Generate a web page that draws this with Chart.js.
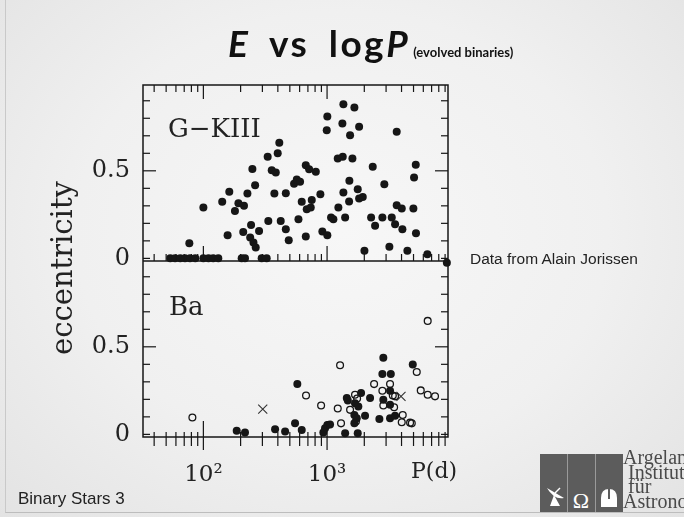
<!DOCTYPE html>
<html>
<head>
<meta charset="utf-8">
<script src="https://cdn.jsdelivr.net/npm/chart.js@4.4.1/dist/chart.umd.min.js"></script>
<style>
  html, body { margin: 0; padding: 0; }
  body {
    width: 684px; height: 517px; overflow: hidden; position: relative;
    background: radial-gradient(ellipse at 50% 45%, #f7f7f7 0%, #f0f0f0 55%, #e3e3e3 100%);
    font-family: "Liberation Sans", Arial, sans-serif;
  }
  #chart { position: absolute; left: 0; top: 0; }
  .frame { position: absolute; left: 5px; top: -2px; width: 700px; height: 514px;
    border-left: 1px solid #c9c9c9; border-bottom: 1px solid #bdbdbd; }
  .title { position: absolute; left: 228px; top: 24px; line-height: 1;
    font-family: Lato, "Open Sans", sans-serif; font-weight: 700; font-size: 37px; color: #111;
    white-space: nowrap; letter-spacing: 2.5px; word-spacing: 8px; }
  .title i { font-style: italic; }
  .title small { font-size: 13px; letter-spacing: 0; word-spacing: 0; margin-left: 3px; }
  .note { position: absolute; left: 470px; top: 250px; font-size: 15.5px; color: #222; }
  .footer { position: absolute; left: 18px; top: 489px; font-size: 17px; color: #222; }
  .logo { position: absolute; left: 540px; top: 454px; width: 83px; height: 58px; background: #5c5c5c; }
  .logo .sep { position: absolute; top: 0; width: 1px; height: 58px; background: #9a9a9a; }
  .logo svg { position: absolute; left: 0; top: 0; }
  .logotext { position: absolute; left: 623px; top: 450px; font-family: "Liberation Serif", serif;
    font-size: 20px; line-height: 14.5px; color: #4a4a4a; white-space: nowrap; }
</style>
</head>
<body>
<div class="frame"></div>
<canvas id="chart" width="684" height="517"></canvas>
<div class="title"><i>E</i> vs log<i>P</i><small>(evolved binaries)</small></div>
<div class="note">Data from Alain Jorissen</div>
<div class="footer">Binary Stars 3</div>
<div class="logo">
  <div class="sep" style="left:27px"></div>
  <div class="sep" style="left:55px"></div>
  <svg width="83" height="58">
    <path d="M7 34 Q14 46 24 44 Z" fill="#fff"/>
    <path d="M14 41 L10 52 L20 52 Z" fill="#fff"/>
    <line x1="15" y1="39" x2="20" y2="34" stroke="#fff" stroke-width="1.5"/>
    <text x="41" y="54" text-anchor="middle" font-family="Liberation Serif" font-size="22" fill="#fff">Ω</text>
    <path d="M61 53 L61 44 Q61 35 69 35 Q77 35 77 44 L77 53 Z" fill="#fff"/>
    <rect x="68" y="35" width="2" height="10" fill="#5c5c5c"/>
  </svg>
</div>
<div class="logotext">Argelander<br>&nbsp;Institut<br>&nbsp;für<br>Astronomie</div>
<script>
// orbital period P (days) and eccentricity
const gkPeriod = [54, 59, 65, 71, 78, 86, 100, 110, 120, 132, 204, 217, 296, 325,
  77, 100, 142, 162, 192, 180, 213, 157, 227, 249, 262, 210, 243, 239, 254, 265, 282,
  331, 411, 399, 357, 385, 375, 335, 422, 464, 490, 464, 541, 569, 605, 587,
  673, 716, 811, 624, 752, 685, 738, 883, 673, 916, 1005, 1005, 994,
  1355, 1663, 1330, 1816, 1535, 1220, 1339, 1603, 1515, 1355, 1770, 1507, 1816, 1944,
  1234, 1077, 1125, 1400, 2340, 2904, 3656, 2270, 2445, 2800, 3334, 3548, 3656,
  4016, 4064, 4988, 5213, 5050, 5234, 2005, 3190, 4460, 6470, 9300];
const gkEcc = [0, 0, 0, 0, 0, 0, 0, 0, 0, 0, 0, 0, 0, 0,
  0.086, 0.29, 0.323, 0.38, 0.315, 0.27, 0.30, 0.132, 0.37, 0.51, 0.418, 0.151, 0.19, 0.119, 0.09, 0.062, 0.157,
  0.58, 0.66, 0.60, 0.503, 0.49, 0.37, 0.214, 0.214, 0.166, 0.103, 0.372, 0.426, 0.45, 0.437, 0.223,
  0.532, 0.509, 0.494, 0.323, 0.334, 0.281, 0.29, 0.366, 0.125, 0.153, 0.132, 0.81, 0.732,
  0.88, 0.862, 0.77, 0.751, 0.703, 0.57, 0.58, 0.57, 0.443, 0.376, 0.395, 0.325, 0.342, 0.351,
  0.29, 0.233, 0.223, 0.233, 0.523, 0.423, 0.723, 0.233, 0.186, 0.233, 0.233, 0.195, 0.303,
  0.285, 0.166, 0.285, 0.534, 0.462, 0.143, 0.043, 0.066, 0.043, 0.023, -0.025];

const baFilledPeriod = [186, 217, 380, 458, 551, 575, 624, 933, 963, 1005, 1057, 1400, 1444, 1472,
  1683, 1790, 1884, 1663, 1738, 1663, 1770, 2028, 2227, 2850, 2800, 3276, 3230, 2850, 3230,
  2648, 3230, 3548, 4930];
const baFilledEcc = [0.02, 0.011, 0.029, 0.016, 0.063, 0.287, 0.025, 0.011, 0.035, 0.054, 0.057, 0.006, 0.207, 0.194,
  0.178, 0.159, 0.236, 0.111, 0.092, 0.063, 0.006, 0.107, 0.207, 0.437, 0.345, 0.345, 0.249, 0.198, 0.169,
  0.088, 0.092, 0.107, 0.399];

const baOpenPeriod = [81.5, 676, 895, 1274, 1220, 1297, 1535, 1683, 1749, 1711, 2400, 3230, 2800, 3400,
  3548, 2850, 3484, 4090, 4016, 4690, 4840, 5310, 5720, 6510, 7460, 6510];
const baOpenEcc = [0.096, 0.222, 0.165, 0.395, 0.148, 0.063, 0.14, 0.226, 0.205, 0.073, 0.287, 0.287, 0.249, 0.222,
  0.217, 0.165, 0.155, 0.111, 0.069, 0.067, 0.063, 0.356, 0.251, 0.226, 0.217, 0.648];

const baCrossPeriod = [302, 3960];
const baCrossEcc = [0.144, 0.217];

const xTickValues = [100, 1000];
const xTickLabels = ['10²', '10³'];
const yTickValues = [0, 0.5];
const yTickLabels = ['0', '0.5'];

const ink = '#161616';
const serif = '"DejaVu Serif", "Liberation Serif", serif';

function points(px, py) {
  return px.map((p, i) => ({ x: p, y: py[i] }));
}

function line(ctx, x1, y1, x2, y2) {
  ctx.beginPath();
  ctx.moveTo(x1, y1);
  ctx.lineTo(x2, y2);
  ctx.stroke();
}

// box, inward ticks and panel texts of the scanned figure
const framePlugin = {
  id: 'framePlugin',
  afterDatasetsDraw(chart) {
    const ctx = chart.ctx;
    const x = chart.scales.x, yt = chart.scales.yTop, yb = chart.scales.yBot;
    const L = x.left, R = x.right, T = yt.top, M = yt.bottom, B = yb.bottom;
    ctx.save();
    ctx.strokeStyle = ink;
    ctx.lineWidth = 1.5;
    ctx.strokeRect(L, T, R - L, B - T);
    line(ctx, L, M, R, M);

    ctx.lineWidth = 1.2;
    for (const ys of [yt, yb]) {
      for (let i = 0; i <= 9; i++) {
        const py = ys.getPixelForValue(i / 10);
        const len = i === 5 ? 13 : 7;
        line(ctx, L, py, L + len, py);
        line(ctx, R - len, py, R, py);
      }
    }
    for (let n = 1; n <= 3; n++) {
      for (let k = 1; k <= 9; k++) {
        const v = k * Math.pow(10, n);
        if (v < x.min || v > x.max) continue;
        const px = x.getPixelForValue(v);
        const major = k === 1;
        line(ctx, px, T, px, T + (major ? 14 : 7));
        line(ctx, px, M, px, M - (major ? 15 : 7));
        line(ctx, px, B - (major ? 16 : 5), px, B + (major ? 13 : 9));
      }
    }

    ctx.fillStyle = '#222';
    ctx.textBaseline = 'alphabetic';
    ctx.textAlign = 'left';
    ctx.font = '26px ' + serif;
    ctx.fillText('G\u2212KIII', L + 25, T + 52);
    ctx.fillText('Ba', L + 26, M + 54);
    ctx.font = '22px ' + serif;
    ctx.fillText('P(d)', 411, B + 41);

    ctx.translate(64, 268);
    ctx.rotate(-Math.PI / 2);
    ctx.textAlign = 'center';
    ctx.textBaseline = 'middle';
    ctx.font = '29px ' + serif;
    ctx.fillText('eccentricity', 0, 0);
    ctx.restore();
  }
};

function yAxis() {
  return {
    type: 'linear',
    position: 'left',
    stack: 'ecc',
    stackWeight: 1,
    min: -0.015,
    max: 0.99,
    grid: { display: false, drawTicks: false },
    border: { display: false },
    afterBuildTicks: s => { s.ticks = yTickValues.map(v => ({ value: v })); },
    afterFit: s => { s.width = 143; },
    ticks: {
      padding: 13,
      color: '#222',
      font: { family: serif, size: 24 },
      callback: (v, i) => yTickLabels[i]
    }
  };
}

new Chart(document.getElementById('chart'), {
  type: 'scatter',
  data: {
    datasets: [
      {
        label: 'G-KIII',
        yAxisID: 'yTop',
        data: points(gkPeriod, gkEcc),
        pointRadius: 4,
        pointBackgroundColor: ink,
        pointBorderWidth: 0,
        clip: false
      },
      {
        label: 'Ba (filled)',
        yAxisID: 'yBot',
        data: points(baFilledPeriod, baFilledEcc),
        pointRadius: 4,
        pointBackgroundColor: ink,
        pointBorderWidth: 0,
        clip: false
      },
      {
        label: 'Ba (open)',
        yAxisID: 'yBot',
        data: points(baOpenPeriod, baOpenEcc),
        pointRadius: 3.4,
        pointBackgroundColor: 'rgba(0,0,0,0)',
        pointBorderColor: ink,
        pointBorderWidth: 1.3,
        clip: false
      },
      {
        label: 'Ba (cross)',
        yAxisID: 'yBot',
        data: points(baCrossPeriod, baCrossEcc),
        pointStyle: 'crossRot',
        pointRadius: 6.4,
        pointBorderColor: '#333',
        pointBorderWidth: 1.1,
        clip: false
      }
    ]
  },
  options: {
    responsive: false,
    animation: false,
    events: [],
    layout: { padding: { left: 0, top: 85, right: 236, bottom: 0 } },
    plugins: { legend: { display: false }, tooltip: { enabled: false } },
    scales: {
      x: {
        type: 'logarithmic',
        min: 32.5,
        max: 9500,
        grid: { display: false, drawTicks: false },
        border: { display: false },
        afterBuildTicks: s => { s.ticks = xTickValues.map(v => ({ value: v })); },
        afterFit: s => { s.height = 80; },
        ticks: {
          autoSkip: false,
          maxRotation: 0,
          padding: 24,
          color: '#222',
          font: { family: serif, size: 23 },
          callback: (v, i) => xTickLabels[i]
        }
      },
      yBot: yAxis(),
      yTop: yAxis()
    }
  },
  plugins: [framePlugin]
});
</script>
</body>
</html>
